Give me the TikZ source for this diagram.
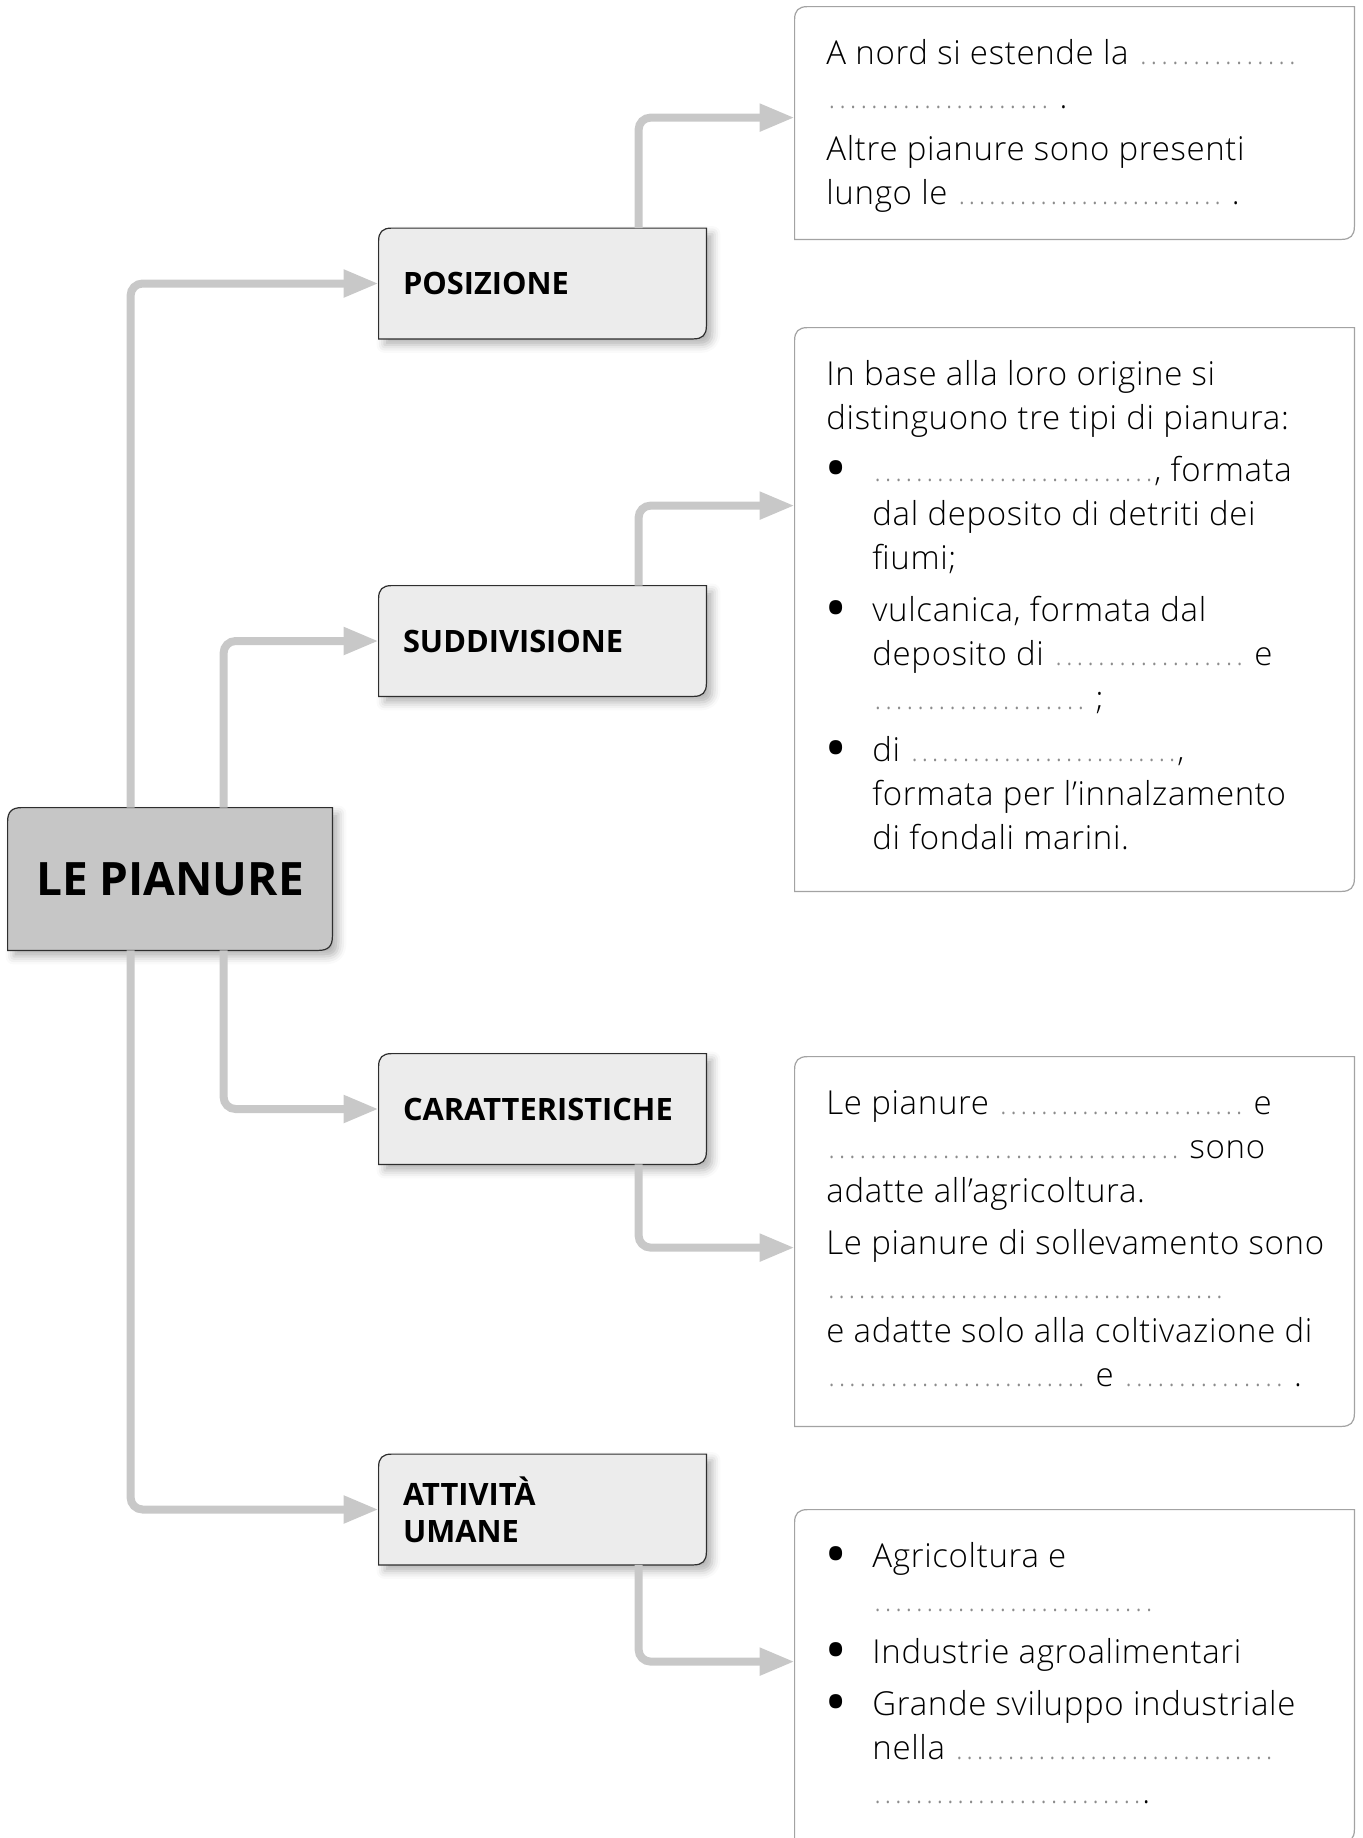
\documentclass[tikz,border=0pt]{standalone}
\usepackage{fontspec}
\setmainfont{Open Sans}[UprightFont={* Light}, BoldFont={* Bold}, UprightFeatures={LetterSpace=2.0}]
\usetikzlibrary{arrows.meta,calc,shadows.blur,backgrounds}

\definecolor{linkgray}{HTML}{C8C8C8}
\definecolor{maingray}{HTML}{C6C6C6}
\definecolor{headfill}{HTML}{ECECEC}
\definecolor{edgedark}{HTML}{2E2E2E}
\definecolor{boxedge}{HTML}{A3A3A3}
\definecolor{dotgray}{HTML}{8C8C8C}

% dotted blank to be filled in, #1 = length in pt
\newcommand{\blankdots}[1]{{\color{dotgray}\xleaders\hbox to 5.1pt{\hss\fontsize{14}{14}\selectfont.\hss}\hskip #1pt}}
% bullet with hanging indent
\newcommand{\bul}{\makebox[23pt][l]{\hspace{0.3pt}\raisebox{-1.6pt}{\fontsize{23}{23}\selectfont\bfseries\textbullet}}}
\newcommand{\ind}{\hspace*{23pt}}
% outline with rounded top-left and bottom-right corners around node #2
\newcommand{\notchbox}[3]{%
  \path[#1] (#2.south west)
    -- ([yshift=-#3]#2.north west) .. controls ([yshift=-0.3*#3]#2.north west) and ([xshift=0.3*#3]#2.north west) .. ([xshift=#3]#2.north west)
    -- (#2.north east)
    -- ([yshift=#3]#2.south east) .. controls ([yshift=0.3*#3]#2.south east) and ([xshift=-0.3*#3]#2.south east) .. ([xshift=-#3]#2.south east)
    -- cycle;}

\tikzset{
  mainbox/.style={minimum width=162pt, minimum height=71pt, inner sep=0pt,
    font=\bfseries\fontsize{23}{27}\selectfont},
  headbox/.style={minimum width=163.5pt, minimum height=55pt, inner xsep=12pt, inner ysep=0pt,
    text width=139.5pt, align=left, font=\bfseries\fontsize{15.4}{18.5}\selectfont},
  infobox/.style={minimum width=279.5pt, inner sep=0pt},
  bodytext/.style={anchor=north west, inner sep=0pt, align=left, font=\fontsize{16.5}{22}\selectfont},
  link/.style={draw=linkgray, line width=4pt, rounded corners=6pt,
    -{Triangle[length=17.5pt,width=13pt]}},
  softshadow/.style={blur shadow={shadow xshift=3pt, shadow yshift=-3pt,
    shadow blur radius=4pt, shadow opacity=30}},
  mainshape/.style={fill=maingray, draw=edgedark, line width=0.6pt, softshadow},
  headshape/.style={fill=headfill, draw=edgedark, line width=0.6pt, softshadow},
  infoshape/.style={fill=white, draw=boxedge, line width=0.6pt},
}

\begin{document}
\begin{tikzpicture}[x=0.5pt, y=-0.5pt]
\useasboundingbox (0,0) rectangle (1362,1838);

% central topic and the four headings
\node[mainbox] (main) at (170,879) {LE PIANURE};
\node[headbox] (pos) at (542.5,283.5) {POSIZIONE};
\node[headbox] (sud) at (542.5,641) {SUDDIVISIONE};
\node[headbox] (car) at (542.5,1109) {CARATTERISTICHE};
\node[headbox] (att) at (542.5,1509.5) {ATTIVITÀ\\UMANE};

% text panels
\node[infobox, minimum height=116pt] (box1) at (1074.5,123) {};
\node[infobox, minimum height=281.5pt] (box2) at (1074.5,609.5) {};
\node[infobox, minimum height=184.5pt] (box3) at (1074.5,1241.5) {};
\node[infobox, minimum height=166pt] (box4) at (1074.5,1676) {};

\begin{scope}[on background layer]
  \notchbox{mainshape}{main}{7pt}
  \notchbox{headshape}{pos}{6.5pt}
  \notchbox{headshape}{sud}{6.5pt}
  \notchbox{headshape}{car}{6.5pt}
  \notchbox{headshape}{att}{6.5pt}
  \notchbox{infoshape}{box1}{6.5pt}
  \notchbox{infoshape}{box2}{6.5pt}
  \notchbox{infoshape}{box3}{6.5pt}
  \notchbox{infoshape}{box4}{6.5pt}
\end{scope}

% entry points on the panels
\coordinate (in1) at ($(box1.north west)+(0,111)$);
\coordinate (in2) at ($(box2.north west)+(0,178)$);
\coordinate (in3) at ($(box3.north west)+(0,191)$);
\coordinate (in4) at ($(box4.north west)+(0,152)$);

% connectors
\draw[link] ($(main.north west)+(123,0)$) |- (pos.west);
\draw[link] ($(main.north west)+(216,0)$) |- (sud.west);
\draw[link] ($(main.south west)+(216,0)$) |- (car.west);
\draw[link] ($(main.south west)+(123,0)$) |- (att.west);
\draw[link] ($(pos.north west)+(260,0)$) |- (in1);
\draw[link] ($(sud.north west)+(260,0)$) |- (in2);
\draw[link] ($(car.south west)+(260,0)$) |- (in3);
\draw[link] ($(att.south west)+(260,0)$) |- (in4);

% panel texts
\node[bodytext] (t1) at (826,34) {\rule{0pt}{15pt}A nord si estende la \blankdots{80}\\
\blankdots{112} .\\[4pt]
Altre pianure sono presenti\\
lungo le \blankdots{133} .};

\node[bodytext] (t2) at (826,355) {\rule{0pt}{15pt}In base alla loro origine si\\
distinguono tre tipi di pianura:\\[4pt]
\bul\blankdots{141}, formata\\
\ind dal deposito di detriti dei\\
\ind fiumi;\\[4pt]
\bul vulcanica, formata dal\\
\ind deposito di \blankdots{96} e\\
\ind\blankdots{107} ;\\[4pt]
\bul di \blankdots{134},\\
\ind formata per l’innalzamento\\
\ind di fondali marini.};

\node[bodytext] (t3) at (826,1084) {\rule{0pt}{15pt}Le pianure \blankdots{123} e\\
\blankdots{177} sono\\
adatte all’agricoltura.\\[4pt]
Le pianure di sollevamento sono\\
\blankdots{199}\\
e adatte solo alla coltivazione di\\
\blankdots{130} e \blankdots{81} .};

\node[bodytext] (t4) at (826,1537) {\rule{0pt}{15pt}\bul Agricoltura e\\
\ind\blankdots{141}\\[4pt]
\bul Industrie agroalimentari\\[4pt]
\bul Grande sviluppo industriale\\
\ind nella \blankdots{160}\\
\ind\blankdots{135}.};
\end{tikzpicture}
\end{document}
